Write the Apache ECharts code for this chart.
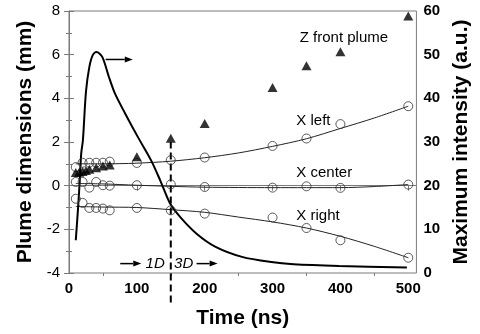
<!DOCTYPE html>
<html>
<head>
<meta charset="utf-8">
<script src="https://cdn.jsdelivr.net/npm/echarts@6/dist/echarts.min.js"></script>
<style>
  html, body { margin: 0; padding: 0; background: #fff; }
  #chart { width: 480px; height: 334px; }
</style>
</head>
<body>
<div id="chart"></div>
<script>
// Plume dimensions (mm) vs time (ns)
const xLeftPts   = [[10,0.85],[20,1.05],[30,1.05],[40,1.05],[50,1.05],[60,1.1],[100,1.04],[150,1.17],[200,1.29],[300,1.82],[350,2.16],[400,2.82],[500,3.64]];
const xCenterPts = [[10,0.17],[20,0.17],[30,-0.09],[40,0.17],[50,0.02],[60,0.0],[100,0.02],[150,0.06],[200,-0.06],[300,-0.09],[350,-0.03],[400,-0.1],[500,0.05]];
const xRightPts  = [[10,-0.6],[20,-0.79],[30,-1.02],[40,-1.02],[50,-1.05],[60,-1.13],[100,-1.02],[150,-1.13],[200,-1.28],[300,-1.46],[350,-1.94],[400,-2.5],[500,-3.3]];
const zFrontPts  = [[10,0.6],[15,0.62],[20,0.65],[25,0.7],[30,0.75],[40,0.82],[50,0.9],[60,0.95],[100,1.32],[150,2.17],[200,2.85],[300,4.5],[350,5.49],[400,6.13],[500,7.77]];

// Fitted trend curves
const xLeftFit   = [[10,1.0],[50,1.0],[100,1.03],[150,1.12],[200,1.28],[250,1.5],[300,1.8],[350,2.15],[400,2.62],[450,3.1],[500,3.64]];
const xCenterFit = [[10,0.1],[50,0.08],[100,0.02],[150,-0.03],[200,-0.07],[300,-0.09],[400,-0.09],[450,-0.04],[500,0.05]];
const xRightFit  = [[10,-0.95],[50,-0.98],[100,-1.0],[150,-1.1],[200,-1.22],[250,-1.44],[300,-1.66],[350,-1.94],[400,-2.32],[450,-2.78],[500,-3.3]];

// Maximum intensity (a.u.) vs time (ns)
const intensity = [[10,7.5],[13.4,15],[15.8,21],[18,27.4],[20.5,30.4],[25,41.5],[30,47.2],[35,49.9],[40.5,50.6],[49,49.5],[58.6,45],[68,41],[82.5,36.6],[102,31],[121,25.8],[135,21],[149,15.9],[164,12.8],[188,9.0],[216,6.0],[255,3.7],[298,2.5],[331,2.0],[398,1.6],[498,1.25]];

// Axis ticks
const xMajorTicks = [0,100,200,300,400,500];
const xMinorTicks = [50,150,250,350,450];

const FONT = 'Liberation Sans, Arial, Helvetica, sans-serif';
const AXIS_GREY = '#7a7a7a';

const chart = echarts.init(document.getElementById('chart'), null, { renderer: 'canvas' });

function arrowItem(params, api) {
  const p1 = api.coord([api.value(0), api.value(1)]);
  const p2 = api.coord([api.value(2), api.value(3)]);
  const ang = Math.atan2(p2[1] - p1[1], p2[0] - p1[0]);
  const L = 8, W = 3;
  const back = [p2[0] - L * Math.cos(ang), p2[1] - L * Math.sin(ang)];
  const a = [back[0] + W * Math.sin(ang), back[1] - W * Math.cos(ang)];
  const b = [back[0] - W * Math.sin(ang), back[1] + W * Math.cos(ang)];
  return {
    type: 'group',
    children: [
      { type: 'line', shape: { x1: p1[0], y1: p1[1], x2: back[0], y2: back[1] }, style: { stroke: '#000', lineWidth: 1.5 } },
      { type: 'polygon', shape: { points: [p2, a, b] }, style: { fill: '#000' } }
    ]
  };
}

const noteTexts = ['Z front plume', 'X left', 'X center', 'X right'];
const regimeTexts = ['1D', '3D'];

const option = {
  animation: false,
  backgroundColor: '#fff',
  grid: { left: 69, right: 54, top: 11, bottom: 61, show: true, borderColor: AXIS_GREY, borderWidth: 1, backgroundColor: 'transparent' },
  xAxis: [
    {
      type: 'value', min: 0, max: 512, position: 'bottom',
      name: 'Time (ns)', nameLocation: 'middle', nameGap: 35,
      nameTextStyle: { fontFamily: FONT, fontSize: 21, fontWeight: 'bold', color: '#000' },
      axisLine: { show: true, lineStyle: { color: AXIS_GREY, width: 1 } },
      axisTick: { show: true, length: 5, lineStyle: { color: AXIS_GREY }, customValues: xMajorTicks },
      axisLabel: { customValues: xMajorTicks, margin: 8, fontFamily: FONT, fontSize: 15, fontWeight: 'bold', color: '#000' },
      splitLine: { show: false }
    },
    {
      type: 'value', min: 0, max: 512, position: 'bottom',
      axisLine: { show: false },
      axisTick: { show: true, length: 3, lineStyle: { color: AXIS_GREY }, customValues: xMinorTicks },
      axisLabel: { show: false },
      splitLine: { show: false }
    }
  ],
  yAxis: [
    {
      type: 'value', min: -4, max: 8, interval: 2, position: 'left',
      name: 'Plume dimensions (mm)', nameLocation: 'middle', nameGap: 31,
      nameTextStyle: { fontFamily: FONT, fontSize: 21, fontWeight: 'bold', color: '#000' },
      axisLine: { show: true, lineStyle: { color: AXIS_GREY, width: 1 } },
      axisTick: { show: true, length: 5, lineStyle: { color: AXIS_GREY } },
      minorTick: { show: true, splitNumber: 2, length: 3, lineStyle: { color: AXIS_GREY } },
      axisLabel: { margin: 9, fontFamily: FONT, fontSize: 15, color: '#000' },
      splitLine: { show: false }
    },
    {
      type: 'value', min: 0, max: 60, interval: 10, position: 'right',
      name: 'Maximum intensity (a.u.)', nameLocation: 'middle', nameGap: 31, nameRotate: 90,
      nameTextStyle: { fontFamily: FONT, fontSize: 21, fontWeight: 'bold', color: '#000' },
      axisLine: { show: true, lineStyle: { color: AXIS_GREY, width: 1 } },
      axisTick: { show: true, length: 5, lineStyle: { color: AXIS_GREY } },
      minorTick: { show: true, splitNumber: 2, length: 3, lineStyle: { color: AXIS_GREY } },
      axisLabel: { margin: 7, fontFamily: FONT, fontSize: 15, fontWeight: 'bold', color: '#000' },
      splitLine: { show: false }
    }
  ],
  series: [
    { type: 'line', data: xLeftFit, smooth: 0.3, symbol: 'none', lineStyle: { color: '#222', width: 1 }, z: 3 },
    { type: 'line', data: xCenterFit, smooth: 0.3, symbol: 'none', lineStyle: { color: '#222', width: 1 }, z: 3 },
    { type: 'line', data: xRightFit, smooth: 0.3, symbol: 'none', lineStyle: { color: '#222', width: 1 }, z: 3 },
    { type: 'line', yAxisIndex: 1, data: intensity, smooth: 0.3, symbol: 'none', lineStyle: { color: '#000', width: 2 }, z: 4 },
    // dashed 1D / 3D boundary, running below the time axis
    {
      type: 'custom', clip: false, z: 5, data: [[150, -5.35, 2.0]],
      renderItem: function (params, api) {
        const p1 = api.coord([api.value(0), api.value(1)]);
        const p2 = api.coord([api.value(0), api.value(2)]);
        return { type: 'line', shape: { x1: p1[0], y1: p1[1], x2: p2[0], y2: p2[1] }, style: { stroke: '#000', lineWidth: 2, lineDash: [7, 4] } };
      }
    },
    // regime arrows
    { type: 'custom', clip: false, z: 5, data: [[75.5, -3.57, 106.5, -3.57], [188, -3.57, 219, -3.57]], renderItem: arrowItem },
    // arrow pointing the intensity curve to its axis
    { type: 'custom', clip: false, z: 5, yAxisIndex: 1, data: [[54, 48.9, 94, 48.9]], renderItem: arrowItem },
    // regime labels
    {
      type: 'custom', clip: false, z: 5, data: [[127, -3.57], [169, -3.57]],
      renderItem: function (params, api) {
        const p = api.coord([api.value(0), api.value(1)]);
        return { type: 'text', x: p[0], y: p[1], style: { text: regimeTexts[params.dataIndex], font: 'italic 15px ' + FONT, fill: '#000', align: 'center', verticalAlign: 'middle' } };
      }
    },
    // curve names
    {
      type: 'custom', clip: false, z: 5, data: [[340, 6.77], [335, 2.97], [335, 0.6], [335, -1.39]],
      renderItem: function (params, api) {
        const p = api.coord([api.value(0), api.value(1)]);
        return { type: 'text', x: p[0], y: p[1], style: { text: noteTexts[params.dataIndex], font: '15px ' + FONT, fill: '#000', align: 'left', verticalAlign: 'middle' } };
      }
    },
    { type: 'scatter', data: xLeftPts, symbol: 'circle', symbolSize: 9, itemStyle: { color: 'transparent', borderColor: '#333', borderWidth: 1 }, z: 6 },
    { type: 'scatter', data: xCenterPts, symbol: 'circle', symbolSize: 9, itemStyle: { color: 'transparent', borderColor: '#333', borderWidth: 1 }, z: 6 },
    { type: 'scatter', data: xRightPts, symbol: 'circle', symbolSize: 9, itemStyle: { color: 'transparent', borderColor: '#333', borderWidth: 1 }, z: 6 },
    { type: 'scatter', data: zFrontPts, symbol: 'triangle', symbolSize: [10, 9], itemStyle: { color: '#000' }, z: 7 }
  ]
};

chart.setOption(option);
</script>
</body>
</html>
